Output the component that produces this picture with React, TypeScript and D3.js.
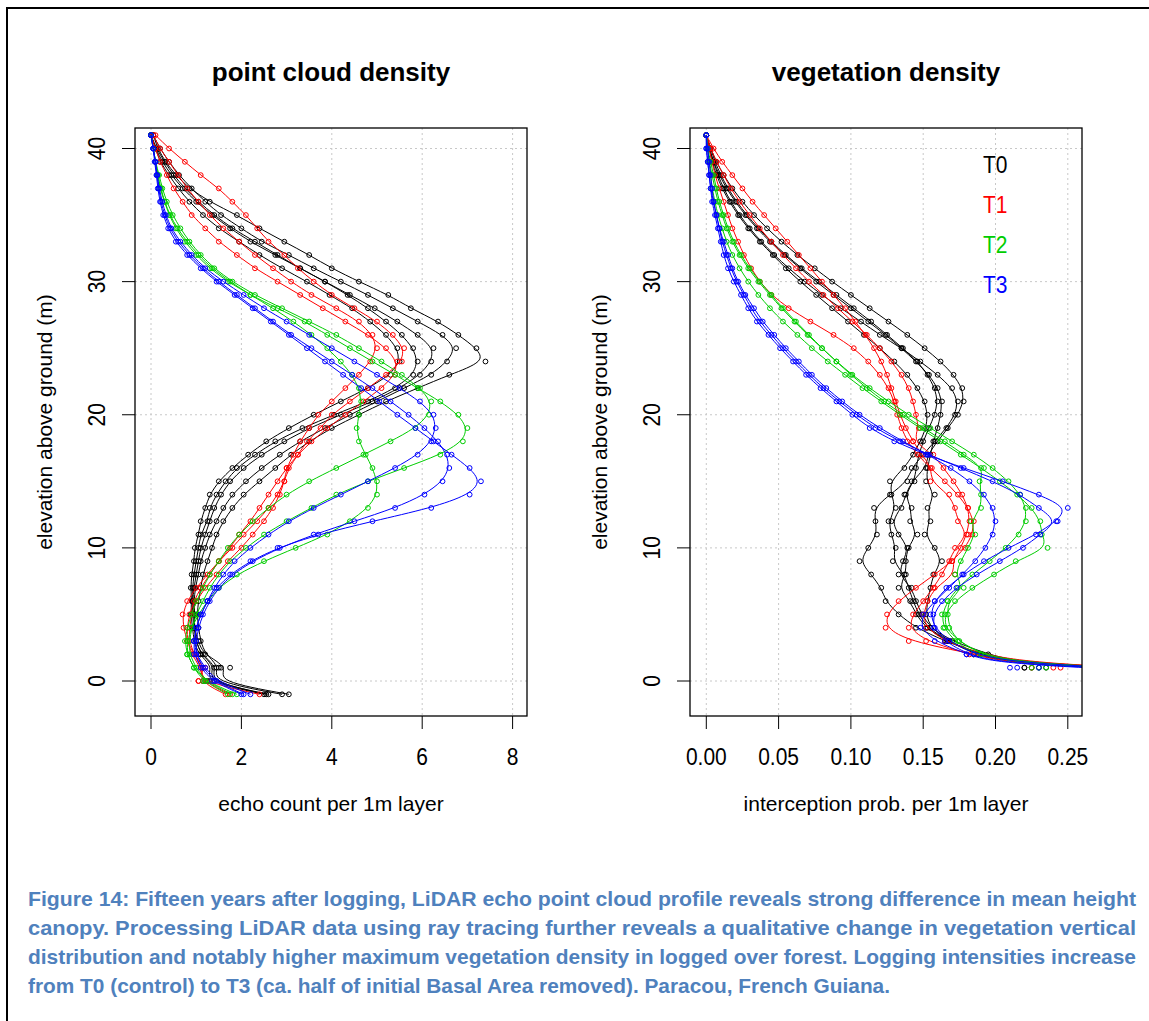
import * as d3 from 'd3';

// 1 m layers, read from top of canopy down to the ground
const heights = [41, 40, 39, 38, 37, 36, 35, 34, 33, 32, 31, 30, 29, 28, 27, 26, 25, 24, 23, 22, 21, 20,
  19, 18, 17, 16, 15, 14, 13, 12, 11, 10, 9, 8, 7, 6, 5, 4, 3, 2, 1, 0, -1];

// echo count per 1m layer (left panel), one array per plot
const echoT0a = [0.05, 0.15, 0.32, 0.55, 0.85, 1.3, 1.9, 2.4, 2.95, 3.5, 4.0, 4.6, 5.25, 5.75, 6.35, 6.8, 7.2, 7.4, 6.6, 5.9, 5.2, 4.6, 4.0, 3.5, 3.1, 2.75, 2.4, 2.05, 1.8, 1.6, 1.45, 1.35, 1.25, 1.15, 1.1, 1.05, 1.02, 1.05, 1.1, 1.2, 1.55, 1.3, 2.9];
const echoT0b = [0.05, 0.2, 0.4, 0.62, 0.9, 1.2, 1.55, 2.0, 2.45, 3.05, 3.6, 4.2, 4.8, 5.35, 5.9, 6.45, 6.75, 6.55, 6.2, 5.6, 5.0, 4.4, 3.85, 3.3, 2.85, 2.45, 2.1, 1.8, 1.6, 1.45, 1.3, 1.2, 1.1, 1.05, 0.98, 0.95, 0.97, 0.95, 1.05, 1.15, 1.75, 1.4, 3.05];
const echoT0c = [0.0, 0.1, 0.25, 0.45, 0.7, 1.0, 1.35, 1.75, 2.2, 2.75, 3.3, 3.85, 4.4, 4.95, 5.45, 5.9, 6.25, 6.2, 5.95, 5.5, 4.9, 4.2, 3.5, 2.95, 2.45, 2.05, 1.75, 1.55, 1.4, 1.3, 1.2, 1.1, 1.05, 1.0, 0.95, 0.92, 0.92, 0.95, 1.0, 1.1, 1.45, 1.2, 2.6];
const echoT0d = [0.0, 0.12, 0.3, 0.5, 0.75, 1.05, 1.4, 1.8, 2.3, 2.8, 3.3, 3.85, 4.35, 4.8, 5.2, 5.55, 5.8, 5.9, 5.8, 5.4, 4.8, 4.05, 3.35, 2.75, 2.3, 1.9, 1.65, 1.45, 1.3, 1.25, 1.1, 1.05, 1.0, 0.95, 0.92, 0.92, 0.95, 0.97, 1.0, 1.1, 1.5, 1.25, 2.55];
const echoT0e = [0.0, 0.1, 0.2, 0.4, 0.6, 0.85, 1.15, 1.5, 1.95, 2.4, 2.9, 3.45, 3.95, 4.45, 4.85, 5.2, 5.45, 5.5, 5.3, 4.8, 4.2, 3.6, 3.05, 2.55, 2.15, 1.8, 1.5, 1.3, 1.2, 1.1, 1.05, 0.97, 0.95, 0.9, 0.88, 0.9, 0.88, 0.92, 0.95, 1.05, 1.4, 1.15, 2.5];
const echoT1a = [0.1, 0.4, 0.75, 1.1, 1.5, 1.8, 2.1, 2.35, 2.6, 2.95, 3.25, 3.6, 4.0, 4.5, 5.0, 5.35, 5.6, 5.55, 5.2, 4.8, 4.4, 4.0, 3.75, 3.45, 3.25, 3.05, 2.95, 2.8, 2.6, 2.35, 2.05, 1.8, 1.5, 1.25, 1.0, 0.8, 0.7, 0.72, 0.8, 0.95, 1.2, 1.05, 1.65];
const echoT1b = [0.05, 0.2, 0.4, 0.6, 0.8, 1.05, 1.3, 1.6, 1.95, 2.3, 2.7, 3.1, 3.55, 4.1, 4.6, 4.9, 5.0, 4.85, 4.6, 4.3, 4.0, 3.7, 3.5, 3.3, 3.15, 3.0, 2.95, 2.85, 2.7, 2.5, 2.25, 2.0, 1.7, 1.45, 1.2, 1.0, 0.9, 0.85, 0.85, 0.95, 1.15, 1.05, 2.4];
const echoT1c = [0.0, 0.1, 0.2, 0.35, 0.5, 0.7, 0.9, 1.2, 1.5, 1.9, 2.3, 2.8, 3.3, 3.8, 4.3, 4.8, 5.2, 5.45, 5.4, 5.1, 4.7, 4.3, 3.9, 3.55, 3.25, 3.0, 2.8, 2.6, 2.4, 2.2, 1.95, 1.75, 1.5, 1.3, 1.1, 0.95, 0.85, 0.8, 0.8, 0.9, 1.1, 1.15, 1.75];
const echoT2a = [0.0, 0.05, 0.1, 0.15, 0.2, 0.3, 0.4, 0.55, 0.75, 1.0, 1.3, 1.7, 2.2, 2.8, 3.4, 3.9, 4.4, 4.9, 5.4, 5.9, 6.4, 6.8, 7.0, 6.9, 6.4, 5.6, 4.8, 4.1, 3.55, 3.0, 2.5, 2.1, 1.75, 1.5, 1.3, 1.15, 1.0, 0.9, 0.85, 0.85, 1.0, 1.2, 1.8];
const echoT2b = [0.0, 0.05, 0.1, 0.18, 0.25, 0.35, 0.48, 0.65, 0.85, 1.1, 1.4, 1.8, 2.3, 2.9, 3.5, 4.1, 4.6, 5.1, 5.55, 5.95, 6.2, 6.15, 5.85, 5.3, 4.7, 4.1, 3.5, 3.0, 2.6, 2.25, 1.95, 1.7, 1.5, 1.3, 1.15, 1.0, 0.9, 0.8, 0.75, 0.8, 0.95, 1.2, 1.9];
const echoT2c = [0.0, 0.05, 0.1, 0.15, 0.22, 0.3, 0.42, 0.58, 0.8, 1.05, 1.35, 1.75, 2.2, 2.7, 3.15, 3.55, 3.9, 4.2, 4.45, 4.6, 4.65, 4.6, 4.55, 4.6, 4.75, 4.9, 5.0, 5.0, 4.8, 4.4, 3.9, 3.2, 2.5, 1.9, 1.5, 1.25, 1.05, 0.9, 0.8, 0.8, 0.95, 1.15, 1.7];
const echoT3a = [0.0, 0.05, 0.08, 0.12, 0.15, 0.2, 0.27, 0.38, 0.55, 0.8, 1.1, 1.45, 1.85, 2.25, 2.65, 3.05, 3.45, 3.85, 4.25, 4.65, 5.05, 5.45, 5.85, 6.25, 6.65, 7.05, 7.3, 7.05, 6.2, 4.9, 3.7, 2.8, 2.2, 1.75, 1.45, 1.25, 1.1, 1.0, 0.95, 1.0, 1.2, 1.45, 2.2];
const echoT3b = [0.0, 0.05, 0.1, 0.13, 0.17, 0.22, 0.3, 0.42, 0.6, 0.85, 1.15, 1.5, 1.9, 2.3, 2.7, 3.1, 3.55, 4.0, 4.45, 4.9, 5.3, 5.7, 6.05, 6.35, 6.55, 6.6, 6.45, 6.05, 5.4, 4.5, 3.6, 2.85, 2.25, 1.8, 1.5, 1.3, 1.15, 1.05, 1.0, 1.0, 1.15, 1.4, 2.05];
const echoT3c = [0.0, 0.05, 0.1, 0.14, 0.18, 0.25, 0.33, 0.45, 0.65, 0.9, 1.2, 1.6, 2.05, 2.5, 3.0, 3.5, 4.0, 4.5, 5.0, 5.5, 5.95, 6.25, 6.3, 6.2, 5.9, 5.4, 4.8, 4.2, 3.6, 3.05, 2.6, 2.2, 1.85, 1.6, 1.4, 1.25, 1.1, 1.0, 0.95, 0.95, 1.1, 1.35, 2.0];

// interception probability per 1m layer (right panel)
const vegT0a = [0, 0.002, 0.005, 0.008, 0.012, 0.017, 0.023, 0.03, 0.038, 0.047, 0.057, 0.068, 0.08, 0.093, 0.107, 0.12, 0.135, 0.148, 0.16, 0.17, 0.174, 0.172, 0.166, 0.158, 0.15, 0.142, 0.139, 0.127, 0.116, 0.117, 0.118, 0.112, 0.106, 0.114, 0.121, 0.124, 0.133, 0.145, 0.165, 0.19, 0.225, 0.6, 1.0];
const vegT0b = [0, 0.003, 0.007, 0.012, 0.018, 0.025, 0.033, 0.042, 0.052, 0.063, 0.075, 0.087, 0.1, 0.113, 0.126, 0.139, 0.151, 0.162, 0.171, 0.177, 0.178, 0.174, 0.167, 0.16, 0.153, 0.152, 0.142, 0.138, 0.135, 0.128, 0.133, 0.14, 0.136, 0.133, 0.142, 0.145, 0.149, 0.155, 0.17, 0.195, 0.23, 0.62, 1.0];
const vegT0c = [0, 0.002, 0.005, 0.009, 0.014, 0.02, 0.027, 0.035, 0.044, 0.054, 0.065, 0.076, 0.088, 0.1, 0.112, 0.124, 0.135, 0.145, 0.154, 0.16, 0.163, 0.162, 0.16, 0.157, 0.155, 0.153, 0.152, 0.158, 0.153, 0.155, 0.151, 0.158, 0.163, 0.157, 0.155, 0.153, 0.152, 0.155, 0.168, 0.185, 0.22, 0.6, 1.0];
const vegT0d = [0, 0.002, 0.004, 0.007, 0.011, 0.016, 0.022, 0.029, 0.037, 0.046, 0.055, 0.065, 0.076, 0.087, 0.098, 0.109, 0.12, 0.13, 0.139, 0.146, 0.151, 0.153, 0.152, 0.148, 0.143, 0.137, 0.127, 0.128, 0.131, 0.126, 0.128, 0.131, 0.129, 0.137, 0.14, 0.143, 0.147, 0.153, 0.167, 0.188, 0.235, 0.6, 1.0];
const vegT0e = [0, 0.003, 0.006, 0.01, 0.015, 0.021, 0.028, 0.036, 0.045, 0.055, 0.066, 0.078, 0.09, 0.102, 0.114, 0.125, 0.136, 0.146, 0.153, 0.158, 0.16, 0.158, 0.154, 0.15, 0.147, 0.145, 0.144, 0.137, 0.142, 0.141, 0.146, 0.139, 0.138, 0.138, 0.133, 0.141, 0.145, 0.152, 0.166, 0.19, 0.22, 0.62, 1.0];
const vegT1a = [0, 0.002, 0.004, 0.006, 0.009, 0.012, 0.015, 0.018, 0.022, 0.026, 0.031, 0.037, 0.045, 0.057, 0.072, 0.088, 0.102, 0.112, 0.12, 0.126, 0.13, 0.132, 0.135, 0.139, 0.146, 0.155, 0.165, 0.174, 0.181, 0.185, 0.184, 0.179, 0.17, 0.158, 0.145, 0.133, 0.125, 0.124, 0.14, 0.185, 0.24, 0.62, 1.0];
const vegT1b = [0, 0.003, 0.007, 0.012, 0.017, 0.023, 0.03, 0.037, 0.045, 0.053, 0.062, 0.071, 0.081, 0.091, 0.101, 0.111, 0.12, 0.128, 0.135, 0.14, 0.143, 0.145, 0.147, 0.143, 0.157, 0.164, 0.171, 0.177, 0.181, 0.182, 0.18, 0.176, 0.17, 0.172, 0.158, 0.153, 0.15, 0.152, 0.165, 0.19, 0.245, 0.6, 1.0];
const vegT1c = [0, 0.005, 0.011, 0.018, 0.025, 0.032, 0.04, 0.048, 0.056, 0.064, 0.072, 0.08, 0.088, 0.096, 0.103, 0.11, 0.116, 0.121, 0.125, 0.128, 0.131, 0.134, 0.138, 0.143, 0.149, 0.156, 0.155, 0.168, 0.172, 0.174, 0.181, 0.172, 0.168, 0.163, 0.157, 0.15, 0.143, 0.14, 0.152, 0.182, 0.225, 0.6, 1.0];
const vegT2a = [0, 0.001, 0.002, 0.003, 0.004, 0.006, 0.008, 0.011, 0.014, 0.018, 0.023, 0.029, 0.036, 0.044, 0.053, 0.063, 0.073, 0.084, 0.096, 0.108, 0.121, 0.134, 0.148, 0.162, 0.176, 0.19, 0.203, 0.215, 0.225, 0.231, 0.232, 0.236, 0.214, 0.199, 0.184, 0.172, 0.165, 0.165, 0.175, 0.19, 0.235, 0.6, 1.0];
const vegT2b = [0, 0.001, 0.002, 0.004, 0.006, 0.008, 0.011, 0.014, 0.018, 0.023, 0.029, 0.036, 0.044, 0.052, 0.061, 0.07, 0.08, 0.09, 0.101, 0.113, 0.126, 0.14, 0.155, 0.17, 0.185, 0.198, 0.209, 0.217, 0.221, 0.221, 0.216, 0.207, 0.196, 0.184, 0.174, 0.167, 0.163, 0.164, 0.172, 0.185, 0.23, 0.58, 0.98];
const vegT2c = [0, 0.001, 0.003, 0.005, 0.007, 0.009, 0.012, 0.015, 0.019, 0.024, 0.03, 0.037, 0.045, 0.053, 0.062, 0.071, 0.08, 0.09, 0.1, 0.111, 0.123, 0.136, 0.15, 0.165, 0.178, 0.192, 0.189, 0.19, 0.19, 0.183, 0.186, 0.181, 0.176, 0.172, 0.178, 0.167, 0.167, 0.168, 0.174, 0.19, 0.225, 0.58, 0.98];
const vegT3a = [0, 0, 0.001, 0.002, 0.003, 0.004, 0.006, 0.008, 0.01, 0.012, 0.015, 0.019, 0.024, 0.029, 0.035, 0.043, 0.051, 0.06, 0.069, 0.079, 0.09, 0.101, 0.113, 0.13, 0.152, 0.178, 0.205, 0.23, 0.25, 0.242, 0.228, 0.209, 0.192, 0.178, 0.166, 0.158, 0.155, 0.158, 0.168, 0.185, 0.23, 0.6, 1.0];
const vegT3b = [0, 0, 0.001, 0.002, 0.003, 0.005, 0.007, 0.009, 0.011, 0.014, 0.017, 0.021, 0.026, 0.031, 0.037, 0.045, 0.053, 0.062, 0.071, 0.081, 0.092, 0.104, 0.117, 0.134, 0.154, 0.176, 0.198, 0.217, 0.23, 0.243, 0.231, 0.219, 0.203, 0.187, 0.173, 0.163, 0.157, 0.157, 0.165, 0.18, 0.215, 0.58, 0.98];
const vegT3c = [0, 0.001, 0.002, 0.003, 0.004, 0.005, 0.007, 0.009, 0.012, 0.015, 0.018, 0.022, 0.027, 0.033, 0.039, 0.047, 0.055, 0.064, 0.073, 0.083, 0.094, 0.106, 0.12, 0.136, 0.153, 0.169, 0.182, 0.192, 0.198, 0.2, 0.198, 0.193, 0.186, 0.177, 0.168, 0.158, 0.15, 0.148, 0.158, 0.18, 0.21, 0.56, 0.95];

const treatments = ['T0', 'T1', 'T2', 'T3'];
const treatmentColors = ['#000000', '#ff0000', '#00cd00', '#0000ff'];

const echoProfiles = [
  [echoT0a, echoT0b, echoT0c, echoT0d, echoT0e],
  [echoT1a, echoT1b, echoT1c],
  [echoT2a, echoT2b, echoT2c],
  [echoT3a, echoT3b, echoT3c],
];
const vegProfiles = [
  [vegT0a, vegT0b, vegT0c, vegT0d, vegT0e],
  [vegT1a, vegT1b, vegT1c],
  [vegT2a, vegT2b, vegT2c],
  [vegT3a, vegT3b, vegT3c],
];

const echoTicks = [0, 2, 4, 6, 8];
const vegTicks = [0, 0.05, 0.1, 0.15, 0.2, 0.25];
const elevTicks = [0, 10, 20, 30, 40];

const captionLines = [
  'Figure 14: Fifteen years after logging, LiDAR echo point cloud profile reveals strong difference in mean height',
  'canopy. Processing LiDAR data using ray tracing further reveals a qualitative change in vegetation vertical',
  'distribution and notably higher maximum vegetation density in logged over forest. Logging intensities increase',
  'from T0 (control) to T3 (ca. half of initial Basal Area removed). Paracou, French Guiana.',
];

const FONT = "'Liberation Sans', Arial, Helvetica, sans-serif";
const BOX_W = 392;
const BOX_TOP = 128;
const BOX_BOTTOM = 716;

interface PanelProps {
  id: string;
  boxLeft: number;
  title: string;
  xLabel: string;
  profiles: number[][][];
  xTicks: number[];
  xDomain: [number, number];
  xRange: [number, number];
  fmt: (v: number) => string;
  legend?: boolean;
}

const Panel = ({ id, boxLeft, title, xLabel, profiles, xTicks, xDomain, xRange, fmt, legend }: PanelProps) => {
  const x = d3.scaleLinear().domain(xDomain).range(xRange);
  const y = d3.scaleLinear().domain([0, 40]).range([681, 148.5]);
  const line = d3.line<number>()
    .x(d => x(d))
    .y((_, i) => y(heights[i]))
    .curve(d3.curveBasis);
  const boxRight = boxLeft + BOX_W;
  const cx = boxLeft + BOX_W / 2;

  return (
    <g fontFamily={FONT}>
      <defs>
        <clipPath id={id}>
          <rect x={boxLeft} y={BOX_TOP} width={BOX_W} height={BOX_BOTTOM - BOX_TOP} />
        </clipPath>
      </defs>
      <text x={cx} y={81} textAnchor="middle" fontSize={26} fontWeight="bold">{title}</text>

      {/* dotted grid */}
      {xTicks.map(t => (
        <line key={'gx' + t} x1={x(t)} x2={x(t)} y1={BOX_TOP} y2={BOX_BOTTOM}
          stroke="#c8c8c8" strokeDasharray="2,3" />
      ))}
      {elevTicks.map(t => (
        <line key={'gy' + t} x1={boxLeft} x2={boxRight} y1={y(t)} y2={y(t)}
          stroke="#c8c8c8" strokeDasharray="2,3" />
      ))}

      <g clipPath={`url(#${id})`}>
        {profiles.map((group, gi) => group.map((p, pi) => (
          <g key={`${gi}-${pi}`} stroke={treatmentColors[gi]} fill="none">
            <path d={line(p) || ''} strokeWidth={1} />
            {p.map((v, i) => (
              <circle key={i} cx={x(v)} cy={y(heights[i])} r={2.4} strokeWidth={1} />
            ))}
          </g>
        )))}
      </g>

      <rect x={boxLeft} y={BOX_TOP} width={BOX_W} height={BOX_BOTTOM - BOX_TOP}
        fill="none" stroke="#000" strokeWidth={1.3} />

      {/* x axis */}
      {xTicks.map(t => (
        <g key={'tx' + t}>
          <line x1={x(t)} x2={x(t)} y1={BOX_BOTTOM} y2={BOX_BOTTOM + 13} stroke="#000" />
          <text transform={`translate(${x(t)},765) scale(1,1.1)`} textAnchor="middle" fontSize={21}>{fmt(t)}</text>
        </g>
      ))}
      <text x={cx} y={811} textAnchor="middle" fontSize={21}>{xLabel}</text>

      {/* y axis */}
      {elevTicks.map(t => (
        <g key={'ty' + t}>
          <line x1={boxLeft - 13} x2={boxLeft} y1={y(t)} y2={y(t)} stroke="#000" />
          <text transform={`translate(${boxLeft - 30},${y(t)}) rotate(-90) scale(1,1.1)`} textAnchor="middle" fontSize={21}>{t}</text>
        </g>
      ))}
      <text transform={`translate(${boxLeft - 83},${(BOX_TOP + BOX_BOTTOM) / 2}) rotate(-90)`}
        textAnchor="middle" fontSize={21}>elevation above ground (m)</text>

      {legend && treatments.map((t, i) => (
        <text key={t} transform={`translate(983,${173 + i * 40}) scale(1,1.12)`} fontSize={21}
          fill={treatmentColors[i]}>{t}</text>
      ))}
    </g>
  );
};

const App = () => {
  return (
    <svg width={1149} height={1021} style={{ position: 'absolute', left: 0, top: 0, background: '#fff' }}>
      <rect x={0} y={0} width={1149} height={1021} fill="#fff" />
      <rect x={7} y={8} width={1200} height={1100} fill="none" stroke="#000" strokeWidth={2} />
      <Panel id="clipEcho" boxLeft={135} title="point cloud density" xLabel="echo count per 1m layer"
        profiles={echoProfiles} xTicks={echoTicks} xDomain={[0, 8]} xRange={[151, 512.6]}
        fmt={d3.format('d')} />
      <Panel id="clipVeg" boxLeft={690} title="vegetation density" xLabel="interception prob. per 1m layer"
        profiles={vegProfiles} xTicks={vegTicks} xDomain={[0, 0.25]} xRange={[706.3, 1067.8]}
        fmt={d3.format('.2f')} legend />
      <g fontFamily="'Liberation Sans Narrow', 'Liberation Sans', Arial, sans-serif" fontWeight="bold"
        fontSize={20.5} fill="#4f81bd">
        {captionLines.map((c, i) => (
          <text key={i} x={28} y={906 + i * 29} textLength={i < 3 ? 1108 : 862} lengthAdjust="spacingAndGlyphs">{c}</text>
        ))}
      </g>
    </svg>
  );
};

export default App;
